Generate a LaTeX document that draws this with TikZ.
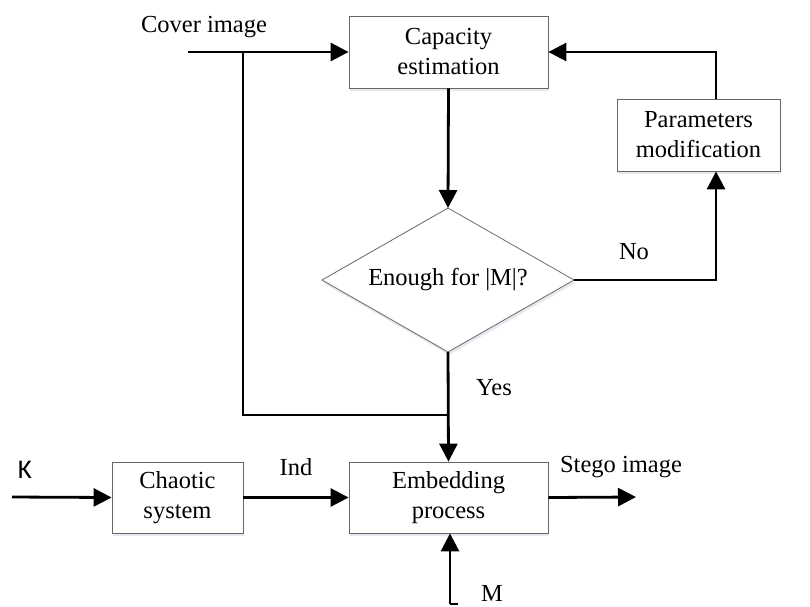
\documentclass[tikz,border=0pt]{standalone}
\usepackage{fontspec}
\setmainfont{Liberation Serif}
\newfontfamily\kfont{Carlito}
\usetikzlibrary{arrows.meta,shadows}
\begin{document}
\begin{tikzpicture}[x=1pt,y=-1pt,
  blk/.style={draw=black!60,line width=0.8pt,fill=white,align=center,font=\fontsize{24.5}{30}\selectfont,
    drop shadow={shadow xshift=1pt,shadow yshift=-3pt,fill=blue!20!gray!25,opacity=0.6}},
  lbl/.style={font=\fontsize{24.5}{30}\selectfont},
  conn/.style={line width=2.8pt,-{Triangle[length=18pt,width=18pt]}},
  plain/.style={line width=2.8pt}]
\useasboundingbox (0,0) rectangle (810,606);
\node[blk,minimum width=199pt,minimum height=72pt] (cap) at (448.5,52) {Capacity\\estimation};
\node[blk,minimum width=163pt,minimum height=72pt] (par) at (698.5,135) {Parameters\\modification};
\node[blk,minimum width=199pt,minimum height=71pt] (emb) at (448.5,497.5) {Embedding\\process};
\node[blk,minimum width=131pt,minimum height=71pt] (cha) at (177.5,497.5) {Chaotic\\system};
\path[draw=black!60,line width=0.8pt,fill=white,drop shadow={shadow xshift=1pt,shadow yshift=-3pt,fill=blue!20!gray!25,opacity=0.6}]
  (322,280) -- (448,208) -- (574,280) -- (448,352) -- cycle;
\coordinate (dL) at (322,280);
\coordinate (dT) at (448,208);
\coordinate (dR) at (574,280);
\coordinate (dB) at (448,352);
\node[lbl] (dtext) at (448,280) {Enough for |M|?};

\coordinate (cin) at (188,52);
\coordinate (split) at (243,52);
\coordinate (jc) at (243,415);
\coordinate (jd) at (448,415);
\node[lbl] (covert) at (204,27) {Cover image};
\draw[conn] (cin) -- (cap.west);
\draw[plain] (split) -- (jc) -- (jd);

\draw[conn] (cap.south) -- (dT);
\draw[conn] (dR) -- (716,280) -- (par.south -| 716,0);
\node[lbl] (no) at (634,252) {No};
\draw[conn] (par.north -| 716,0) -- (716,52) -- (cap.east);
\draw[conn] (dB) -- (emb.north);
\node[lbl] (yes) at (494,388) {Yes};

\coordinate (kin) at (12,497);
\node[font=\kfont\fontsize{27}{30}\selectfont] (k) at (25,470) {K};
\draw[conn] (kin) -- (cha.west);
\draw[conn] (cha.east) -- (emb.west);
\node[lbl] (ind) at (296,467) {Ind};
\coordinate (sout) at (636,497);
\draw[conn] (emb.east) -- (sout);
\node[lbl] (stego) at (621,467) {Stego image};

\coordinate (mtick) at (458,604);
\coordinate (mbot) at (450,604);
\draw[line width=1.2pt] (mtick) -- (mbot);
\draw[conn] (mbot) -- (emb.south -| mbot);
\node[lbl,inner sep=0pt,anchor=base] (m) at (492,601) {M};
\end{tikzpicture}
\end{document}
